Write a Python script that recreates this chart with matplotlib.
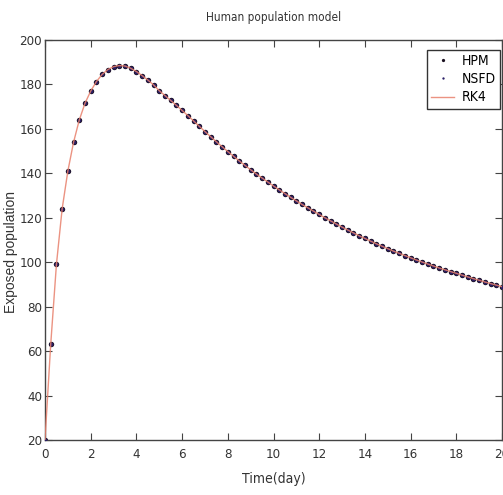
import numpy as np
import matplotlib.pyplot as plt

# values (time step 0.25 day)
t = np.arange(0, 20.01, 0.25)
exposed = [20, 63, 99, 124, 141, 154, 164, 171.5, 177, 181.3, 184.5, 186.7, 188.0, 188.5, 188.3, 187.3,
           185.8, 184.0, 182.0, 179.8, 177.2, 175.0, 172.8, 170.6, 168.3, 166.0, 163.6, 161.2, 158.8,
           156.5, 154.2, 152.0, 149.8, 147.7, 145.6, 143.6, 141.6, 139.7, 137.9, 136.1, 134.3, 132.6,
           130.9, 129.2, 127.6, 126.0, 124.5, 123.0, 121.5, 120.0, 118.6, 117.2, 115.8, 114.5, 113.2,
           111.9, 110.7, 109.5, 108.3, 107.2, 106.1, 105.0, 104.0, 103.0, 102.0, 101.0, 100.1, 99.2,
           98.3, 97.4, 96.6, 95.8, 95.0, 94.2, 93.4, 92.6, 91.9, 91.1, 90.4, 89.7, 89.0]
xticks = [0, 2, 4, 6, 8, 10, 12, 14, 16, 18, 20]
yticks = [20, 40, 60, 80, 100, 120, 140, 160, 180, 200]

cond = dict(family='DejaVu Sans', stretch='condensed')

fig = plt.figure(figsize=(5.03, 4.95), dpi=100)
ax = fig.add_axes([45 / 503, 1 - 440 / 495, 457 / 503, 400 / 495])

ax.plot(t, exposed, 'o', color='#1a1020', markersize=3.9, markeredgewidth=0, label='HPM', zorder=2)
ax.plot(t, exposed, 'o', color='#2a1f66', markersize=2.8, markeredgewidth=0, label='NSFD', zorder=3)
ax.plot(t, exposed, '-', color='#e8806c', linewidth=1.0, label='RK4', zorder=4, alpha=0.85)

ax.set_xlim(0, 20)
ax.set_ylim(20, 200)
ax.set_xticks(xticks)
ax.set_yticks(yticks)
ax.tick_params(direction='in', top=True, right=True, length=5, width=0.8, colors='#444444',
               labelcolor='#333333', labelsize=9.5)
ax.tick_params(axis='x', pad=6)
ax.tick_params(axis='y', pad=2)
for lab in ax.get_xticklabels() + ax.get_yticklabels():
    lab.set_family('DejaVu Sans')
    lab.set_stretch('condensed')
for s in ax.spines.values():
    s.set_color('#444444')
    s.set_linewidth(1.0)

ax.set_title('Human population model', fontsize=8.5, color='#333333', pad=14, **cond)
ax.set_xlabel('Time(day)', fontsize=10, color='#333333', **cond)
ax.xaxis.set_label_coords(0.5, -0.08)
ax.set_ylabel('Exposed population', fontsize=10, family=['Liberation Sans', 'DejaVu Sans'],
              color='#333333')
ax.yaxis.set_label_coords(-0.058, 0.47)

leg = ax.legend(loc='upper right', bbox_to_anchor=(0.995, 0.975),
                prop={'family': 'DejaVu Sans', 'stretch': 'condensed', 'size': 10},
                fancybox=False, edgecolor='#333333', framealpha=1, borderaxespad=0,
                handlelength=1.7, handletextpad=0.5, labelspacing=0.3, borderpad=0.3,
                markerscale=0.6)
leg.get_frame().set_linewidth(1.0)

plt.savefig('out.png', dpi=100)
